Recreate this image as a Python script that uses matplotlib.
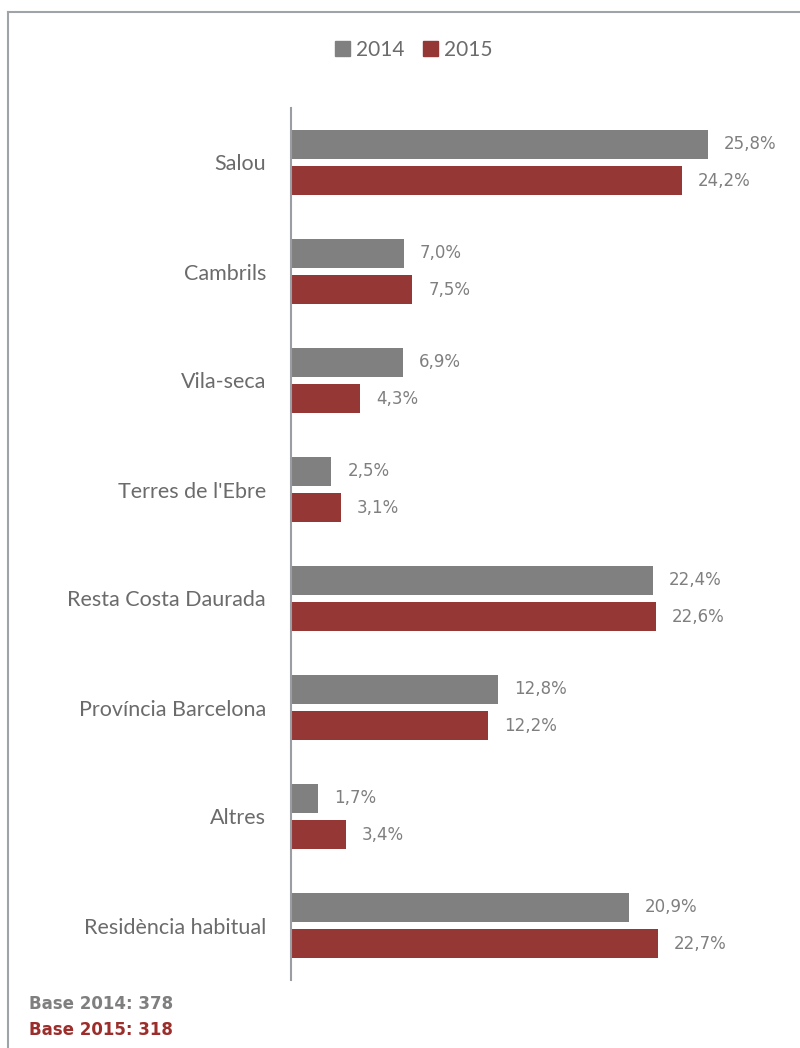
import matplotlib
matplotlib.use("Agg")
import matplotlib.pyplot as plt
from matplotlib.lines import Line2D
from matplotlib.patches import Patch
import numpy as np

categories = ["Salou", "Cambrils", "Vila-seca", "Terres de l'Ebre",
              "Resta Costa Daurada", "Província Barcelona", "Altres",
              "Residència habitual"]
values_2014 = [25.8, 7.0, 6.9, 2.5, 22.4, 12.8, 1.7, 20.9]
values_2015 = [24.2, 7.5, 4.3, 3.1, 22.6, 12.2, 3.4, 22.7]
series_names = ["2014", "2015"]
base_counts = [378, 318]

c2014 = "#808080"
c2015 = "#953735"
text_grey = "#6b6b6b"
label_grey = "#7f7f7f"
frame_grey = "#a0a4a9"

W, H = 800, 1048
fig = plt.figure(figsize=(W / 100, H / 100), dpi=100)

# outer frame (top and left edges)
fig.add_artist(Line2D([8 / W, 8 / W], [0, 1 - 12 / H], color=frame_grey, lw=1.5,
                      transform=fig.transFigure))
fig.add_artist(Line2D([8 / W, 1], [1 - 12 / H, 1 - 12 / H], color=frame_grey, lw=1.5,
                      transform=fig.transFigure))

ax_left, ax_bottom, ax_top = 291 / W, 68 / H, 1 - 108 / H
ax = fig.add_axes([ax_left, ax_bottom, 1 - ax_left, ax_top - ax_bottom])

y = np.arange(len(categories))
h = 0.268
off = 0.166
ax.barh(y - off, values_2014, height=h, color=c2014)
ax.barh(y + off, values_2015, height=h, color=c2015)

def fmt(v):
    return f"{v:.1f}".replace(".", ",") + "%"

for yi, v in zip(y - off, values_2014):
    ax.annotate(fmt(v), (v, yi), xytext=(11.5, 0), textcoords="offset points",
                va="center", ha="left", fontsize=12, color=label_grey,
                family="DejaVu Sans")
for yi, v in zip(y + off, values_2015):
    ax.annotate(fmt(v), (v, yi), xytext=(11.5, 0), textcoords="offset points",
                va="center", ha="left", fontsize=12, color=label_grey,
                family="DejaVu Sans")

ax.set_xlim(0, (W - 291) / 16.16)
ax.set_ylim(len(categories) - 0.5, -0.5)
ax.set_yticks(y)
ax.set_yticklabels(categories, fontsize=15.5, color=text_grey, family="Lato")
ax.tick_params(axis="y", length=0, pad=18)
ax.set_xticks([])
for s in ["top", "right", "bottom"]:
    ax.spines[s].set_visible(False)
ax.spines["left"].set_color("#9a9ea3")
ax.spines["left"].set_linewidth(1.5)
ax.set_facecolor("none")

handles = [Patch(color=c2014), Patch(color=c2015)]
fig.legend(handles, series_names, loc="center", bbox_to_anchor=(414 / W, 1 - 50 / H),
           ncol=2, frameon=False, handlelength=0.7, handleheight=0.7,
           handletextpad=0.3, columnspacing=0.9, labelcolor=text_grey,
           prop={"family": "Lato", "size": 15})

fig.text(29 / W, 1 - 1004 / H, f"Base 2014: {base_counts[0]}", fontsize=12,
         fontweight="bold", color="#7f7f7f", va="center", ha="left", family="DejaVu Sans")
fig.text(29 / W, 1 - 1030 / H, f"Base 2015: {base_counts[1]}", fontsize=12,
         fontweight="bold", color="#9b2d2a", va="center", ha="left", family="DejaVu Sans")

fig.savefig("out.png", dpi=100, facecolor="white")
